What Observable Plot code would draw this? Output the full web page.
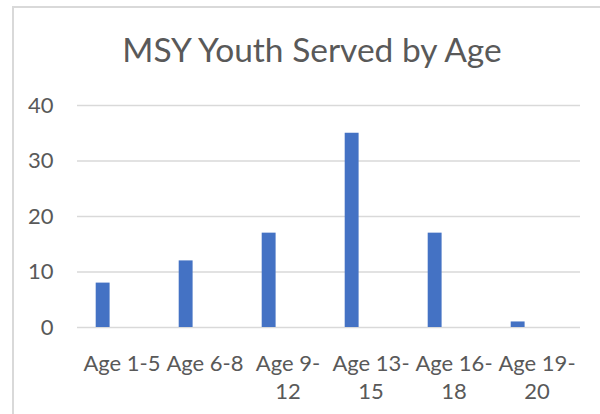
<!DOCTYPE html>
<html>
<head>
<meta charset="utf-8">
<script src="https://cdn.jsdelivr.net/npm/d3@7"></script>
<script src="https://cdn.jsdelivr.net/npm/@observablehq/plot@0.6"></script>
<style>
  html, body { margin: 0; padding: 0; background: #fff; }
  #wrap { position: relative; width: 600px; height: 414px; overflow: hidden; font-family: Lato, "Liberation Sans", Arial, sans-serif; }
  #frame { position: absolute; left: 12px; top: 6px; width: 600px; height: 420px; border-top: 2px solid #d9d9d9; border-left: 2px solid #d9d9d9; box-sizing: border-box; }
  #chart { position: absolute; left: 0; top: 0; }
  #title { position: absolute; left: 12px; top: 32px; width: 600px; text-align: center; font-size: 33.5px; line-height: 34px; color: #595959; white-space: nowrap; }
</style>
</head>
<body>
<div id="wrap">
  <div id="frame"></div>
  <div id="chart"></div>
  <div id="title">MSY Youth Served by Age</div>
</div>
<script>
const categories = ["Age 1-5", "Age 6-8", "Age 9-12", "Age 13-15", "Age 16-18", "Age 19-20"];
const tickLabels = ["Age 1-5", "Age 6-8", "Age 9-\n12", "Age 13-\n15", "Age 16-\n18", "Age 19-\n20"];
const values = [8, 12, 17, 35, 17, 1];
const yTicks = [0, 10, 20, 30, 40];

const data = categories.map((c, i) => ({category: c, value: values[i]}));
const labelOf = new Map(categories.map((c, i) => [c, tickLabels[i]]));

const plot = Plot.plot({
  width: 600,
  height: 414,
  marginTop: 105,
  marginBottom: 87,
  marginLeft: 77,
  marginRight: 20,
  style: {background: "transparent", fontFamily: "Lato, 'Liberation Sans', Arial, sans-serif"},
  x: {domain: categories, padding: 0},
  y: {domain: [0, 40]},
  marks: [
    Plot.ruleY(yTicks, {stroke: "#d9d9d9", strokeWidth: 1.5}),
    Plot.barY(data, {x: "category", y: "value", fill: "#4472C4", insetLeft: 15.7, insetRight: 53.4}),
    Plot.axisY({ticks: yTicks, tickSize: 0, tickPadding: 24, fontSize: 22, fill: "#595959", label: null}),
    Plot.axisX({tickSize: 0, tickPadding: 24, fontSize: 22, fill: "#595959", label: null, lineHeight: 1.27, tickFormat: d => labelOf.get(d)})
  ]
});
document.getElementById("chart").appendChild(plot);
</script>
</body>
</html>
